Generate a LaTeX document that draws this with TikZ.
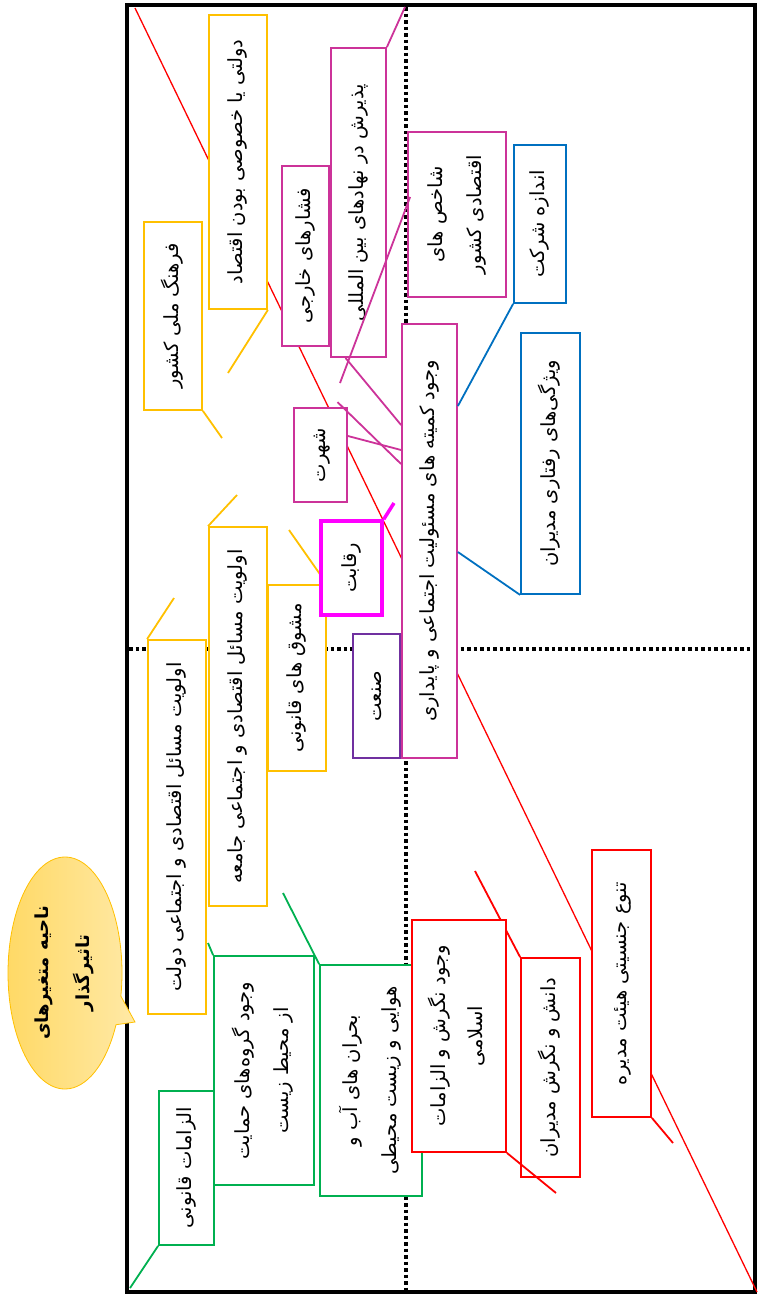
\documentclass[tikz,border=0pt]{standalone}
\usepackage{fontspec}
\usepackage{graphicx}
\usetikzlibrary{shapes.callouts}
\newfontfamily\fa[Script=Arabic]{DejaVu Sans}
\TeXXeTstate=1
\newcommand\rl[1]{\beginR#1\endR}
\newcommand\vt[1]{\rotatebox{90}{\begin{tabular}{@{}c@{}}#1\end{tabular}}}
\definecolor{gold}{HTML}{FFC000}
\definecolor{plum}{HTML}{CC3399}
\definecolor{fuchsia}{HTML}{FF00FF}
\definecolor{ocean}{HTML}{0070C0}
\definecolor{leaf}{HTML}{00B050}
\definecolor{scarlet}{HTML}{FF0000}
\definecolor{grape}{HTML}{7030A0}
\tikzset{
  box/.style={draw=#1, fill=white, line width=1.8pt, inner sep=0pt, font=\fa\fontsize{19.5}{23}\selectfont},
  tail/.style={draw=#1, line width=1.8pt},
  grid line/.style={line width=3.5pt, dash pattern=on 3.5pt off 3pt}
}
\begin{document}
\begin{tikzpicture}[x=1pt, y=-1pt]
\useasboundingbox (0,0) rectangle (760,1299);
\draw[line width=4.5pt] (127,5) rectangle (755,1292);
\draw[grid line] (406,7) -- (406,1290);
\draw[grid line] (129,649) -- (753,649);
\coordinate (rtop) at (135,8);
\coordinate (rbot) at (757,1292);
\draw[scarlet, line width=1.3pt] (rtop) -- (rbot);

\node[box=gold, minimum width=58pt, minimum height=294pt] (dolati) at (238,162) {\vt{\rl{دولتی یا خصوصی بودن اقتصاد}}};
\node[box=gold, minimum width=58pt, minimum height=188pt] (farhang) at (173,316) {\vt{\rl{فرهنگ ملی کشور}}};
\node[box=plum, minimum width=47pt, minimum height=180pt] (feshar) at (305.5,256) {\vt{\rl{فشارهای خارجی}}};
\node[box=plum, minimum width=55pt, minimum height=309pt] (pazirash) at (358.5,202.5) {\vt{\rl{پذیرش در نهادهای بین المللی}}};
\node[box=plum, minimum width=98pt, minimum height=165pt] (shakhes) at (457,214.5) {\vt{\rl{شاخص های}\\[16pt]\rl{اقتصادی کشور}}};
\node[box=ocean, minimum width=52pt, minimum height=158pt] (andaze) at (540,224) {\vt{\rl{اندازه شرکت}}};
\node[box=plum, minimum width=55pt, minimum height=434pt] (komite) at (429.5,541) {\vt{\rl{وجود کمیته های مسئولیت اجتماعی و پایداری}}};
\node[box=ocean, minimum width=59pt, minimum height=261pt] (vizhegi) at (550.5,463.5) {\vt{\rl{ویژگی‌های رفتاری مدیران}}};
\node[box=plum, minimum width=53pt, minimum height=94pt] (shohrat) at (320.5,455) {\vt{\rl{شهرت}}};
\node[box=grape, minimum width=47pt, minimum height=124pt] (senat) at (376.5,696) {\vt{\rl{صنعت}}};
\node[box=gold, minimum width=58pt, minimum height=186pt] (moshavegh) at (297,678) {\vt{\rl{مشوق های قانونی}}};
\node[box=gold, minimum width=58pt, minimum height=379pt] (olaviatJ) at (238,716.5) {\vt{\rl{اولویت مسائل اقتصادی و اجتماعی جامعه}}};
\node[box=gold, minimum width=58pt, minimum height=374pt] (olaviatD) at (177,827) {\vt{\rl{اولویت مسائل اقتصادی و اجتماعی دولت}}};
\node[box=leaf, minimum width=100pt, minimum height=229pt] (goruh) at (264,1070.5) {\vt{\rl{وجود گروه‌های حمایت}\\[16pt]\rl{از محیط زیست}}};
\node[box=leaf, minimum width=55pt, minimum height=154pt] (elzamat) at (186.5,1168) {\vt{\rl{الزامات قانونی}}};
\node[box=leaf, minimum width=102pt, minimum height=231pt] (bohran) at (371,1080.5) {\vt{\rl{بحران های آب و}\\[16pt]\rl{هوایی و زیست محیطی}}};
\node[box=scarlet, minimum width=59pt, minimum height=219pt] (danesh) at (550.5,1067.5) {\vt{\rl{دانش و نگرش مدیران}}};
\node[box=scarlet, minimum width=59pt, minimum height=267pt] (tanavo) at (621.5,983.5) {\vt{\rl{تنوع جنسیتی هیئت مدیره}}};

\coordinate (daneshend) at (475,871);
\draw[tail=scarlet] (danesh.north west) -- (daneshend);
\node[box=scarlet, minimum width=94pt, minimum height=232pt] (negaresh) at (459,1036) {\vt{\rl{وجود نگرش و الزامات}\\[14pt]\rl{اسلامی}}};
\coordinate (negareshend) at (556,1193);
\draw[tail=scarlet] (negaresh.south east) -- (negareshend);

\coordinate (moshaveghend) at (289,530);
\draw[tail=gold] (moshavegh.north east) -- (moshaveghend);
\node[box=fuchsia, line width=3.5pt, minimum width=61pt, minimum height=94pt] (raqabat) at (351.5,568) {\vt{\rl{رقابت}}};
\coordinate (raqabatend) at (394,503);
\draw[tail=fuchsia, line width=3.5pt] (raqabat.north east) -- (raqabatend);

\coordinate (dolatiend) at (228,373);
\coordinate (farhangend) at (222,438);
\coordinate (pazirashtop) at (405,7);
\coordinate (shakhesend) at (340,383);
\coordinate (olaviatJend) at (237,495);
\coordinate (olaviatDend) at (174,598);
\coordinate (goruhend) at (208,943);
\coordinate (bohranend) at (283,893);
\coordinate (elzamatend) at (130,1288);
\coordinate (tanavoend) at (673,1143);
\draw[tail=gold] (dolati.south east) -- (dolatiend);
\draw[tail=gold] (farhang.south east) -- (farhangend);
\draw[tail=plum] (pazirash.north east) -- (pazirashtop);
\draw[tail=plum] ([xshift=-13pt]pazirash.south) -- ([yshift=116pt]komite.west);
\draw[tail=plum] ([xshift=3pt, yshift=17.5pt]shakhes.west) -- (shakhesend);
\draw[tail=plum] ([xshift=17pt, yshift=5pt]shohrat.north) -- ([yshift=77pt]komite.west);
\draw[tail=plum] ([yshift=19pt]shohrat.east) -- ([yshift=91pt]komite.west);
\draw[tail=ocean] (andaze.south west) -- ([yshift=135pt]komite.east);
\draw[tail=ocean] (vizhegi.south west) -- ([yshift=-11pt]komite.east);
\draw[tail=gold] (olaviatJ.north west) -- (olaviatJend);
\draw[tail=gold] (olaviatD.north west) -- (olaviatDend);
\draw[tail=leaf] (goruh.north west) -- (goruhend);
\draw[tail=leaf] (bohran.north west) -- (bohranend);
\draw[tail=leaf] (elzamat.south west) -- (elzamatend);
\draw[tail=scarlet] (tanavo.south east) -- (tanavoend);

\node[ellipse callout, draw=gold, line width=0.8pt, left color=gold!60, right color=gold!35,
  minimum width=114pt, minimum height=232pt, inner sep=0pt,
  callout absolute pointer={(135,1022)}, font=\fa\bfseries\fontsize{18}{21}\selectfont]
  (zone) at (65,973) {\vt{\rl{ناحیه متغیرهای}\\[18pt]\rl{تاثیرگذار}}};
\end{tikzpicture}
\end{document}
